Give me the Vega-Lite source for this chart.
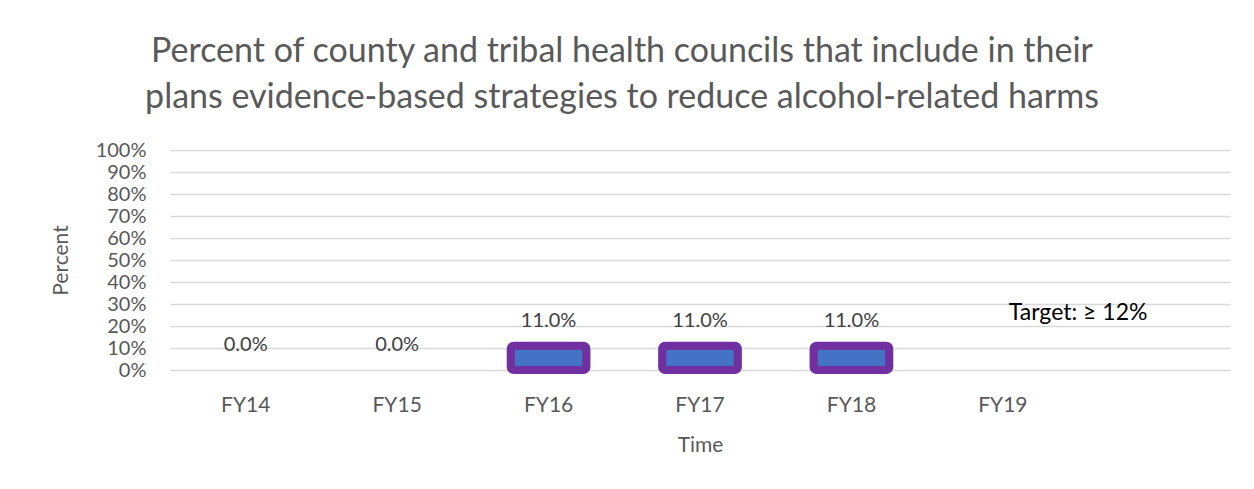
{
  "$schema": "https://vega.github.io/schema/vega-lite/v6.json",
  "width": 1060,
  "height": 220,
  "autosize": {"type": "none"},
  "padding": {"left": 170, "top": 150, "right": 24, "bottom": 119},
  "background": "white",
  "config": {
    "font": "Lato",
    "view": {"stroke": null}
  },
  "title": {
    "text": ["Percent of county and tribal health councils that include in their", "plans evidence-based strategies to reduce alcohol-related harms"],
    "anchor": "middle",
    "frame": "group",
    "dx": -78,
    "offset": 25,
    "fontSize": 34,
    "fontWeight": "normal",
    "color": "#595959",
    "lineHeight": 46
  },
  "data": {
    "values": [
      {"period": "FY14", "value": 0, "label": "0.0%"},
      {"period": "FY15", "value": 0, "label": "0.0%"},
      {"period": "FY16", "value": 0.11, "label": "11.0%"},
      {"period": "FY17", "value": 0.11, "label": "11.0%"},
      {"period": "FY18", "value": 0.11, "label": "11.0%"},
      {"period": "FY19", "value": null, "label": ""}
    ]
  },
  "encoding": {
    "x": {
      "field": "period",
      "type": "nominal",
      "sort": null,
      "scale": {"domain": ["FY14", "FY15", "FY16", "FY17", "FY18", "FY19", " "], "paddingInner": 0.5, "paddingOuter": 0.25},
      "axis": {
        "title": "Time",
        "labelAngle": 0,
        "domain": false,
        "ticks": false,
        "labelPadding": 24,
        "labelFontSize": 21,
        "labelColor": "#595959",
        "titleFontSize": 21,
        "titleFontWeight": "normal",
        "titleColor": "#595959",
        "titlePadding": 19
      }
    },
    "y": {
      "field": "value",
      "type": "quantitative",
      "scale": {"domain": [0, 1], "nice": false},
      "axis": {
        "title": "Percent",
        "values": [0, 0.1, 0.2, 0.3, 0.4, 0.5, 0.6, 0.7, 0.8, 0.9, 1],
        "labelOverlap": false,
        "format": ".0%",
        "domain": false,
        "ticks": false,
        "labelPadding": 24,
        "labelFontSize": 20,
        "labelColor": "#595959",
        "gridColor": "#d9d9d9",
        "gridWidth": 1.5,
        "titleFontSize": 21,
        "titleFontWeight": "normal",
        "titleColor": "#595959",
        "titlePadding": 24
      }
    }
  },
  "layer": [
    {
      "mark": {"type": "bar", "fill": "#4472c4", "stroke": "#7030a0", "strokeWidth": 8, "cornerRadius": 3},
      "transform": [{"filter": "datum.value > 0"}]
    },
    {
      "mark": {"type": "text", "dy": -25, "fontSize": 20, "color": "#404040", "baseline": "middle"},
      "transform": [{"filter": "datum.value != null"}],
      "encoding": {
        "text": {"field": "label"}
      }
    },
    {
      "data": {"values": [{"period": "FY19", "value": 0.12, "label": "Target: ≥ 12%"}]},
      "mark": {"type": "text", "align": "left", "dx": 6, "dy": -31, "fontSize": 23, "color": "#000000", "baseline": "middle"},
      "encoding": {
        "text": {"field": "label"}
      }
    }
  ]
}
